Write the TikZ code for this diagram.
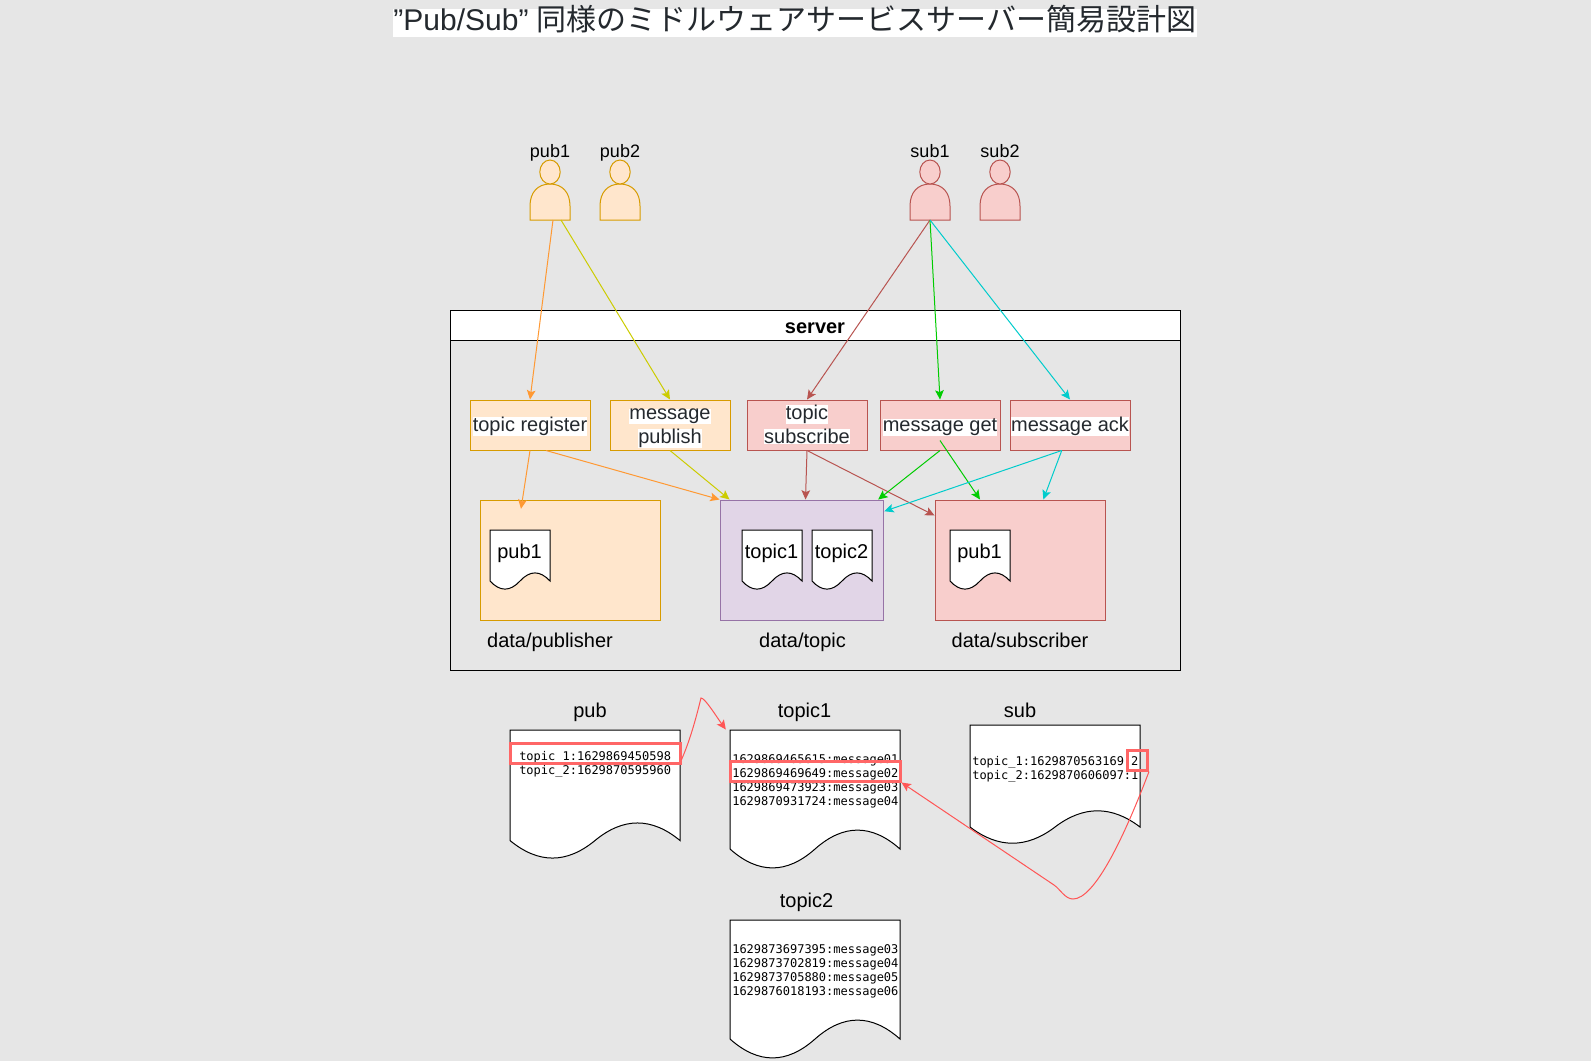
\documentclass[tikz,border=0pt]{standalone}
\usepackage{fontspec}
\setmainfont{Liberation Sans}
\newfontfamily\cjkf{Noto Sans CJK JP}
\newfontfamily\monof{DejaVu Sans Mono}
\usetikzlibrary{arrows.meta,calc}
\definecolor{canvas}{HTML}{E6E6E6}
\definecolor{ofill}{HTML}{FFE6CC}\definecolor{oline}{HTML}{D79B00}
\definecolor{rfill}{HTML}{F8CECC}\definecolor{rline}{HTML}{B85450}
\definecolor{pfill}{HTML}{E1D5E7}\definecolor{pline}{HTML}{9673A6}
\definecolor{ink}{HTML}{24292E}
\definecolor{aorange}{HTML}{FF9933}\definecolor{ayellow}{HTML}{CCCC00}
\definecolor{agreen}{HTML}{00CC00}\definecolor{acyan}{HTML}{00CCCC}
\definecolor{ahl}{HTML}{FF6666}\definecolor{acurve}{HTML}{FF5555}
\newcommand{\hlbox}[1]{\rule{0pt}{12pt}\rule[-2pt]{0pt}{2pt}\smash{\setlength{\fboxsep}{0pt}\colorbox{white}{#1}}}
\newcommand{\personshape}[4]{% name, cx, fill, line
  \draw[line width=0.75pt,draw=#4,fill=#3] (#2-20,220) -- (#2-20,206) .. controls (#2-20,192) and (#2-12,184) .. (#2,184) .. controls (#2+12,184) and (#2+20,192) .. (#2+20,206) -- (#2+20,220) -- cycle;
  \draw[line width=0.75pt,draw=#4,fill=#3] (#2,172) ellipse [x radius=10.2,y radius=12];
  \coordinate (#1) at (#2,220);
}
\newcommand{\docshape}[4]{% x,y,w,h
  \draw[line width=0.75pt,draw=black,fill=white,shift={(#1,#2)}] (0,0) -- (#3,0) -- (#3,{0.85*#4})
   .. controls ({0.8333*#3},{0.67*#4}) and ({0.6667*#3},{0.67*#4}) .. ({0.5*#3},{0.85*#4})
   .. controls ({0.3333*#3},{1.03*#4}) and ({0.1667*#3},{1.03*#4}) .. (0,{0.85*#4}) -- cycle;
}
\tikzset{
  x=0.75pt,y=-0.75pt,
  conn/.style={line width=0.75pt,-{Stealth[length=7pt,width=6.5pt,inset=1.5pt]}},
  boxbase/.style={draw,line width=0.75pt,minimum height=37.5pt,minimum width=90pt,inner sep=0pt,text=ink,font=\fontsize{15}{17.6}\selectfont,align=center},
  obox/.style={boxbase,fill=ofill,draw=oline},
  rbox/.style={boxbase,fill=rfill,draw=rline},
  lab/.style={inner sep=0pt,anchor=base,text=black,font=\fontsize{15}{17}\selectfont},
  toplab/.style={inner sep=0pt,anchor=base,text=black,font=\fontsize{13.5}{16}\selectfont},
  mono/.style={inner sep=0pt,align=left,text=black,font=\monof\fontsize{9}{10.5}\selectfont},
  redbox/.style={draw=ahl,line width=2.25pt,inner sep=0pt},
  store/.style={draw,line width=0.75pt,minimum height=90pt,inner sep=0pt},
}
\begin{document}
\begin{tikzpicture}
\useasboundingbox (0,0) rectangle (1591,1061);
\fill[canvas] (0,0) rectangle (1591,1061);
% title
\node[fill=white,inner sep=0pt,minimum width=601.5pt,minimum height=20.8pt,text=ink,font=\fontsize{22.5}{26}\selectfont] (title) at (795,22.8) {\smash{\raisebox{-6pt}{”Pub/Sub” {\cjkf 同様のミドルウェアサービスサーバー簡易設計図}}}};
% people
\personshape{pubA}{550}{ofill}{oline}
\personshape{pubB}{620}{ofill}{oline}
\personshape{subA}{930}{rfill}{rline}
\personshape{subB}{1000}{rfill}{rline}
\node[toplab] (lpubA) at (550,157) {pub1};
\node[toplab] (lpubB) at (620,157) {pub2};
\node[toplab] (lsubA) at (930,157) {sub1};
\node[toplab] (lsubB) at (1000,157) {sub2};
% server
\node[draw=black,line width=0.75pt,minimum width=547.5pt,minimum height=247.5pt,inner sep=0pt] (server) at (815,505) {};
\node[draw=black,fill=white,line width=0.75pt,minimum width=547.5pt,minimum height=22.5pt,inner sep=0pt,font=\bfseries\fontsize{15}{17}\selectfont] (serverhead) at (815,325) {\smash{\raisebox{-6.3pt}{server}}};
% handlers
\node[obox] (reg) at (530,425) {\hlbox{topic register}};
\node[obox] (pubm) at (670,425) {\hlbox{message}\\\hlbox{publish}};
\node[rbox] (subt) at (807,425) {\hlbox{topic}\\\hlbox{subscribe}};
\node[rbox] (get) at (940,425) {\hlbox{message get}};
\node[rbox] (ack) at (1070,425) {\hlbox{message ack}};
% stores
\node[store,fill=ofill,draw=oline,minimum width=135pt] (dpub) at (570,560) {};
\node[store,fill=pfill,draw=pline,minimum width=122.25pt] (dtop) at (801.5,560) {};
\node[store,fill=rfill,draw=rline,minimum width=127.5pt] (dsub) at (1020,560) {};
\docshape{490}{530}{60}{60}
\docshape{742}{530}{60}{60}
\docshape{812}{530}{60}{60}
\docshape{950}{530}{60}{60}
\node[lab] (fpub) at (519.5,558) {pub1};
\node[lab] (ftopA) at (771.5,558) {topic1};
\node[lab] (ftopB) at (841.5,558) {topic2};
\node[lab] (fsub) at (979.5,558) {pub1};
\node[lab] (ldpub) at (550,647) {data/publisher};
\node[lab] (ldtop) at (802.5,647) {data/topic};
\node[lab] (ldsub) at (1020,647) {data/subscriber};
% connectors
\draw[conn,draw=aorange] ([xshift=2.25pt]pubA) -- (reg.north);
\draw[conn,draw=ayellow] ([xshift=8.25pt]pubA) -- (pubm.north);
\draw[conn,draw=rline] (subA) -- (subt.north);
\draw[conn,draw=agreen] (subA) -- (get.north);
\draw[conn,draw=acyan] (subA) -- (ack.north);
\draw[conn,draw=aorange] (reg.south) -- ([xshift=-36.75pt,yshift=-7pt]dpub.north);
\draw[conn,draw=aorange] ([xshift=12pt]reg.south) -- (dtop.north west);
\draw[conn,draw=ayellow] (pubm.south) -- ([xshift=7.5pt]dtop.north west);
\draw[conn,draw=rline] (subt.south) -- ([xshift=3pt]dtop.north);
\draw[conn,draw=rline] (subt.south) -- ([yshift=-12pt]dsub.north west);
\draw[conn,draw=agreen] (get.south) -- ([xshift=-4pt]dtop.north east);
\draw[conn,draw=agreen] ([yshift=7.5pt]get.south) -- ([xshift=-30pt]dsub.north);
\draw[conn,draw=acyan] ([xshift=-6.2pt]ack.south) -- ([xshift=17.5pt]dsub.north);
\draw[conn,draw=acyan] ([xshift=-6.2pt]ack.south) -- ([xshift=0.6pt,yshift=-8.8pt]dtop.north east);
% lower files
\node[lab] (lpub) at (590,717) {pub};
\node[lab] (ltopA) at (804.5,717) {topic1};
\node[lab] (lsub) at (1020,717) {sub};
\node[lab] (ltopB) at (806.5,907) {topic2};
\docshape{510}{730}{170}{130}
\docshape{730}{730}{170}{140}
\docshape{970}{725}{170}{120}
\docshape{730}{920}{170}{140}
\node[mono,anchor=west] (tpub) at (519,764.5) {topic\_1:1629869450598\\topic\_2:1629870595960};
\node[mono,anchor=west] (ttopA) at (732,781) {1629869465615:message01\\1629869469649:message02\\1629869473923:message03\\1629870931724:message04};
\node[mono,anchor=west] (tsub) at (972,769) {topic\_1:1629870563169 2\\topic\_2:1629870606097:1};
\node[mono,anchor=west] (ttopB) at (732,971) {1629873697395:message03\\1629873702819:message04\\1629873705880:message05\\1629876018193:message06};
\node[redbox,minimum width=127.5pt,minimum height=15pt] (rpub) at (595,753) {};
\node[redbox,minimum width=127.5pt,minimum height=15pt] (rtop) at (815,771) {};
\node[redbox,minimum width=15pt,minimum height=15pt] (rsub) at (1137.5,760) {};
\coordinate (bendA) at (701,698);
\coordinate (bendB) at (1073,899);
\coordinate (bendC) at (1054,885);
\draw[conn,draw=acurve] ([yshift=-5pt]rpub.east) .. controls (691,738) and (697,714) .. (bendA) .. controls (705,698) and (716,716) .. ([xshift=-2pt,yshift=22.5pt]rtop.north west);
\draw[conn,draw=acurve] (rsub.south east) .. controls (1125,835) and (1095,899) .. (bendB) .. controls (1065,899) and (1060,889) .. (bendC) -- (rtop.south east);
\end{tikzpicture}
\end{document}
